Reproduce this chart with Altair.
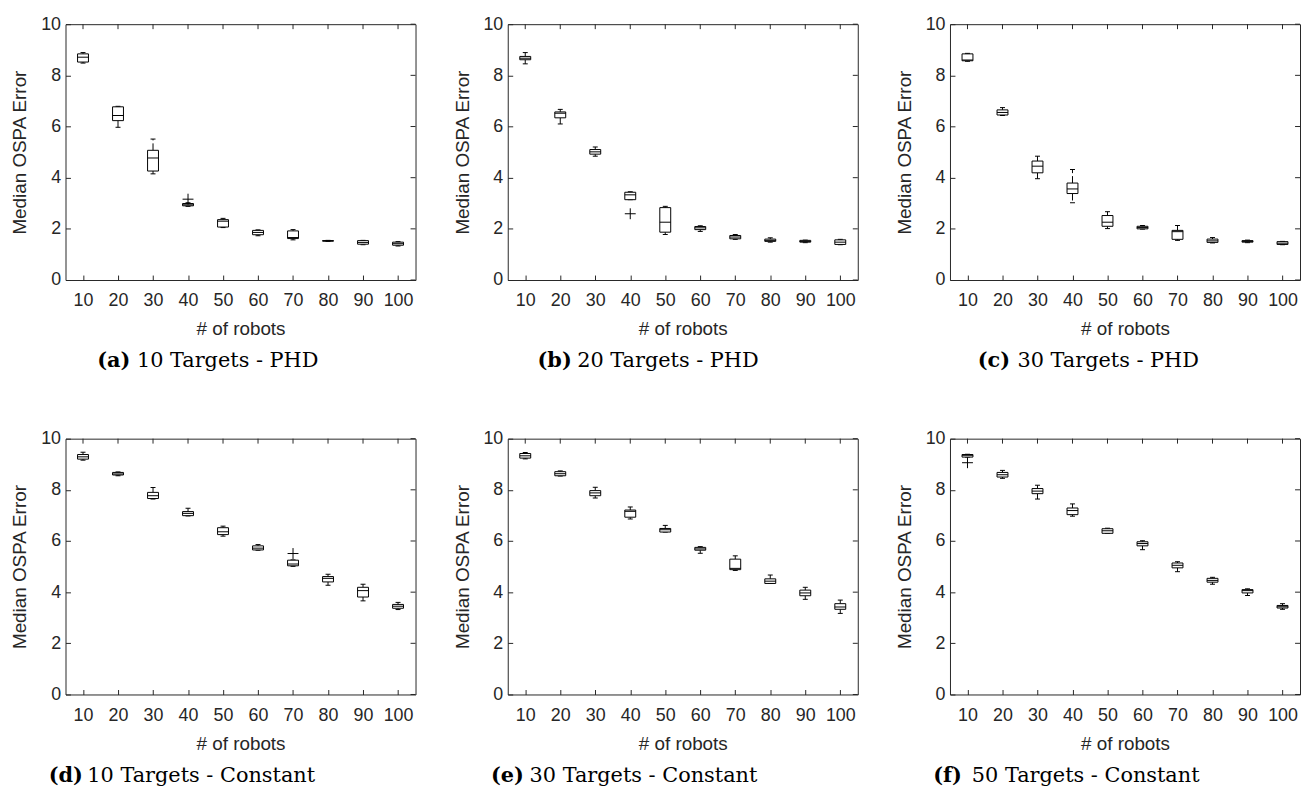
import altair as alt
import pandas as pd

robots = [10, 20, 30, 40, 50, 60, 70, 80, 90, 100]
y_ticks = [0, 2, 4, 6, 8, 10]

# (a) 10 Targets - PHD
a_lo  = [8.48, 5.97, 4.15, 2.88, 2.05, 1.73, 1.57, 1.51, 1.38, 1.33]
a_q1  = [8.52, 6.23, 4.26, 2.90, 2.07, 1.77, 1.62, 1.52, 1.40, 1.36]
a_med = [8.71, 6.43, 4.77, 2.94, 2.30, 1.86, 1.66, 1.53, 1.47, 1.42]
a_q3  = [8.84, 6.77, 5.07, 2.99, 2.36, 1.94, 1.92, 1.54, 1.54, 1.48]
a_hi  = [8.89, 6.79, 5.51, 3.02, 2.41, 1.96, 1.97, 1.55, 1.55, 1.50]
a_out_x = [40]
a_out_y = [3.16]

# (b) 20 Targets - PHD
b_lo  = [8.45, 6.10, 4.84, 3.14, 1.78, 1.90, 1.59, 1.48, 1.46, 1.38]
b_q1  = [8.61, 6.34, 4.92, 3.14, 1.87, 1.97, 1.61, 1.51, 1.48, 1.39]
b_med = [8.67, 6.52, 5.01, 3.33, 2.26, 2.04, 1.68, 1.55, 1.51, 1.48]
b_q3  = [8.74, 6.57, 5.10, 3.43, 2.83, 2.09, 1.74, 1.60, 1.55, 1.57]
b_hi  = [8.89, 6.67, 5.20, 3.45, 2.88, 2.12, 1.78, 1.65, 1.56, 1.59]
b_out_x = [40]
b_out_y = [2.59]

# (c) 30 Targets - PHD
c_lo  = [8.55, 6.43, 3.96, 3.02, 2.01, 1.99, 1.55, 1.45, 1.46, 1.38]
c_q1  = [8.57, 6.45, 4.19, 3.38, 2.10, 2.00, 1.59, 1.47, 1.48, 1.39]
c_med = [8.60, 6.55, 4.45, 3.56, 2.26, 2.05, 1.89, 1.53, 1.51, 1.44]
c_q3  = [8.84, 6.65, 4.65, 3.79, 2.52, 2.10, 1.94, 1.60, 1.54, 1.50]
c_hi  = [8.86, 6.74, 4.84, 4.32, 2.67, 2.13, 2.13, 1.66, 1.56, 1.51]
c_out_x = []
c_out_y = []

# (d) 10 Targets - Constant
d_lo  = [9.16, 8.55, 7.64, 6.98, 6.19, 5.64, 5.01, 4.27, 3.66, 3.32]
d_q1  = [9.20, 8.58, 7.66, 6.99, 6.25, 5.65, 5.03, 4.40, 3.81, 3.37]
d_med = [9.29, 8.62, 7.77, 7.08, 6.36, 5.72, 5.10, 4.54, 4.06, 3.45]
d_q3  = [9.38, 8.68, 7.90, 7.15, 6.52, 5.81, 5.25, 4.61, 4.19, 3.52]
d_hi  = [9.47, 8.70, 8.09, 7.28, 6.58, 5.86, 5.26, 4.70, 4.31, 3.60]
d_out_x = [70]
d_out_y = [5.51]

# (e) 30 Targets - Constant
e_lo  = [9.21, 8.54, 7.68, 6.86, 6.35, 5.52, 4.85, 4.34, 3.72, 3.17]
e_q1  = [9.24, 8.55, 7.77, 6.93, 6.35, 5.64, 4.88, 4.34, 3.86, 3.33]
e_med = [9.33, 8.63, 7.88, 7.16, 6.44, 5.69, 4.93, 4.43, 3.97, 3.42]
e_q3  = [9.42, 8.71, 7.97, 7.21, 6.49, 5.75, 5.29, 4.52, 4.08, 3.55]
e_hi  = [9.46, 8.74, 8.10, 7.33, 6.61, 5.78, 5.42, 4.67, 4.19, 3.69]
e_out_x = []
e_out_y = []

# (f) 50 Targets - Constant
f_lo  = [9.28, 8.45, 7.64, 6.97, 6.30, 5.66, 4.80, 4.31, 3.87, 3.33]
f_q1  = [9.28, 8.50, 7.85, 7.03, 6.30, 5.81, 4.95, 4.39, 3.97, 3.38]
f_med = [9.35, 8.59, 7.95, 7.19, 6.40, 5.90, 5.05, 4.46, 4.06, 3.43]
f_q3  = [9.38, 8.68, 8.05, 7.29, 6.48, 5.97, 5.14, 4.54, 4.10, 3.48]
f_hi  = [9.39, 8.76, 8.18, 7.45, 6.50, 6.01, 5.19, 4.58, 4.13, 3.55]
f_out_x = [10]
f_out_y = [9.06]

panels = [
    ("(a)", "10 Targets - PHD", a_lo, a_q1, a_med, a_q3, a_hi, a_out_x, a_out_y),
    ("(b)", "20 Targets - PHD", b_lo, b_q1, b_med, b_q3, b_hi, b_out_x, b_out_y),
    ("(c)", "30 Targets - PHD", c_lo, c_q1, c_med, c_q3, c_hi, c_out_x, c_out_y),
    ("(d)", "10 Targets - Constant", d_lo, d_q1, d_med, d_q3, d_hi, d_out_x, d_out_y),
    ("(e)", "30 Targets - Constant", e_lo, e_q1, e_med, e_q3, e_hi, e_out_x, e_out_y),
    ("(f)", "50 Targets - Constant", f_lo, f_q1, f_med, f_q3, f_hi, f_out_x, f_out_y),
]

W, H = 353, 258
INK = "#262626"
BOX = "#000000"
SANS = "Liberation Sans"
SERIF = "DejaVu Serif"
LBL = 18
TTL = 19
CAP = 21

# caption x offsets (relative to plot left) for bold tag and text
cap_pos = [(32, 72), (30, 70), (28, 68), (-17, 22), (-17, 22), (-17, 22)]


def make_panel(i, tag, text, lo, q1, med, q3, hi, ox, oy):
    df = pd.DataFrame({"robots": robots, "lo": lo, "q1": q1, "med": med, "q3": q3, "hi": hi})
    out = pd.DataFrame({"robots": ox, "v": oy})
    ticks = pd.DataFrame({"v": y_ticks})
    xs = pd.DataFrame({"robots": robots})

    xkw = dict(
        type="ordinal",
        scale=alt.Scale(type="point", padding=0.5, domain=robots),
        axis=alt.Axis(orient="bottom", domain=False, grid=False, tickSize=5, offset=-5,
                      tickColor=INK, labelPadding=12, labelAngle=0, titlePadding=10,
                      labelFont=SANS, labelFontSize=LBL, labelColor=INK,
                      titleFont=SANS, titleFontSize=TTL, titleFontWeight="normal", titleColor=INK),
        title="# of robots",
    )
    ykw = dict(
        type="quantitative",
        scale=alt.Scale(domain=[0, 10], nice=False, zero=False),
        axis=alt.Axis(orient="left", domain=False, grid=False, tickSize=5, offset=-5,
                      tickColor=INK, values=y_ticks, labelPadding=5, titlePadding=11,
                      labelFont=SANS, labelFontSize=LBL, labelColor=INK,
                      titleFont=SANS, titleFontSize=TTL, titleFontWeight="normal", titleColor=INK),
        title="Median OSPA Error",
    )

    base = alt.Chart(df)
    upper = base.mark_rule(color=BOX, strokeWidth=1, strokeDash=[7, 3]).encode(
        x=alt.X("robots", **xkw), y=alt.Y("q3", **ykw), y2="hi")
    lower = base.mark_rule(color=BOX, strokeWidth=1, strokeDash=[7, 3]).encode(
        x=alt.X("robots", **xkw), y=alt.Y("q1", **ykw), y2="lo")
    cap_hi = base.mark_tick(color=BOX, size=5, thickness=1, opacity=1).encode(
        x=alt.X("robots", **xkw), y=alt.Y("hi", **ykw))
    cap_lo = base.mark_tick(color=BOX, size=5, thickness=1, opacity=1).encode(
        x=alt.X("robots", **xkw), y=alt.Y("lo", **ykw))
    box = base.mark_bar(fill="white", stroke=BOX, strokeWidth=1, size=11).encode(
        x=alt.X("robots", **xkw), y=alt.Y("q1", **ykw), y2="q3")
    median = base.mark_tick(color=BOX, size=11, thickness=1, opacity=1).encode(
        x=alt.X("robots", **xkw), y=alt.Y("med", **ykw))

    layers = [upper, lower, cap_hi, cap_lo, box, median]

    if len(ox):
        outl = alt.Chart(out).mark_point(
            shape="M-1,0L1,0M0,-1L0,1", size=121, filled=False, stroke=BOX, strokeWidth=1, opacity=1
        ).encode(x=alt.X("robots", **xkw), y=alt.Y("v", **ykw))
        layers.append(outl)

    # mirrored inward ticks on right and top edges
    right_ticks = alt.Chart(ticks).mark_rule(color=INK, strokeWidth=1).encode(
        y=alt.Y("v", **ykw), x=alt.value(W - 5), x2=alt.value(W))
    top_ticks = alt.Chart(xs).mark_rule(color=INK, strokeWidth=1).encode(
        x=alt.X("robots", **xkw), y=alt.value(0), y2=alt.value(5))
    layers += [right_ticks, top_ticks]

    tx, rx = cap_pos[i]
    cap_tag = alt.Chart(alt.Data(values=[{"t": tag}])).mark_text(
        font=SERIF, fontSize=CAP, fontWeight="bold", align="left", baseline="middle", color="#000000"
    ).encode(text="t:N", x=alt.value(tx), y=alt.value(H + 82))
    cap_txt = alt.Chart(alt.Data(values=[{"t": text}])).mark_text(
        font=SERIF, fontSize=CAP, align="left", baseline="middle", color="#000000"
    ).encode(text="t:N", x=alt.value(rx), y=alt.value(H + 82))
    layers += [cap_tag, cap_txt]

    return alt.layer(*layers).properties(width=W, height=H)


charts = [make_panel(i, *p) for i, p in enumerate(panels)]

chart = alt.concat(
    *charts, columns=3, spacing=alt.RowColnumber(row=160, column=93), bounds="flush"
).properties(
    padding={"left": 2, "top": 3, "right": 0, "bottom": 0},
    background="white",
).configure_view(
    stroke=INK, strokeWidth=1
).configure_axis(
    labelFont=SANS, labelFontSize=LBL, labelColor=INK,
    titleFont=SANS, titleFontSize=TTL, titleFontWeight="normal", titleColor=INK,
)

chart.save("out.html", embed_options={"renderer": "svg", "actions": False})
